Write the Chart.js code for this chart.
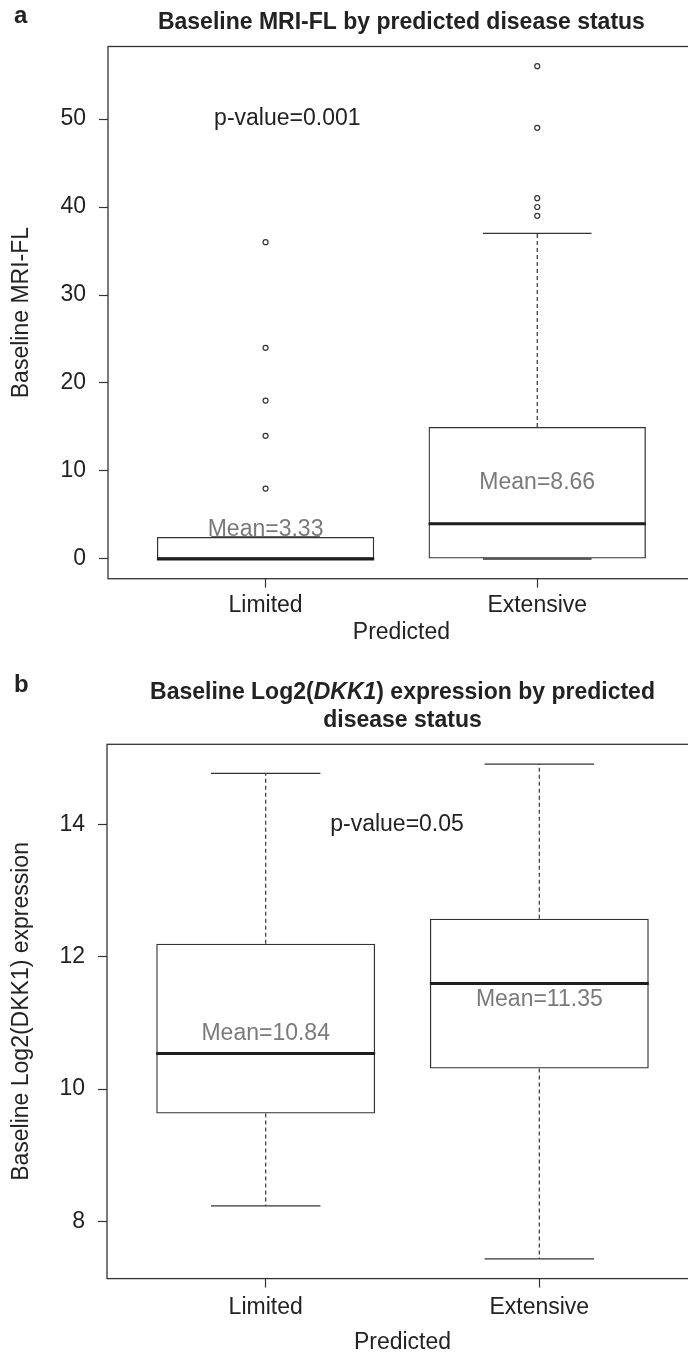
<!DOCTYPE html>
<html><head><meta charset="utf-8">
<script src="https://cdn.jsdelivr.net/npm/chart.js@4.4.1/dist/chart.umd.min.js"></script>
<style>
html,body{margin:0;padding:0;background:#fff;overflow:hidden;width:688px;height:1357px;position:relative;}
canvas{position:absolute;left:0;display:block;}
#ca{top:0}
#cb{top:660px}
</style></head><body>
<canvas id="ca" width="700" height="660"></canvas>
<canvas id="cb" width="700" height="697"></canvas>
<script>
// ---------- shared ----------
const categories = ['Limited', 'Extensive'];
const categoryX = [1, 2];
const xAxisLabel = 'Predicted';

// ---------- panel a ----------
const aPanelLetter = 'a';
const aTitleLines = [[{text: 'Baseline MRI-FL by predicted disease status'}]];
const aYLabel = 'Baseline MRI-FL';
const aYTicks = [0, 10, 20, 30, 40, 50];
const aQ1 = [0, 0];
const aMedian = [0, 4];
const aQ3 = [2.5, 15];
const aWhiskerLow = [0, 0];
const aWhiskerHigh = [2.5, 37];
const aOutliers = [[8, 14, 18, 24, 36], [39, 40, 41, 49, 56]];
const aMeans = [3.33, 8.66];
const aPText = 'p-value=0.001';
const aPX = 1.08;
const aPY = 50;

// ---------- panel b ----------
const bPanelLetter = 'b';
const bTitleLines = [
  [{text: 'Baseline Log2('}, {text: 'DKK1', italic: true}, {text: ') expression by predicted'}],
  [{text: 'disease status'}]
];
const bYLabel = 'Baseline Log2(DKK1) expression';
const bYTicks = [8, 10, 12, 14];
const bQ1 = [9.63, 10.31];
const bMedian = [10.54, 11.6];
const bQ3 = [12.2, 12.58];
const bWhiskerLow = [8.23, 7.43];
const bWhiskerHigh = [14.78, 14.92];
const bOutliers = [[], []];
const bMeans = [10.84, 11.35];
const bPText = 'p-value=0.05';
const bPX = 1.48;
const bPY = 14;

// ---------- styling ----------
const FAMILY = '"Liberation Sans", Arial, Helvetica, sans-serif';
const FS = 23;
const TEXT = '#222';
const LINE = '#333';
const BOX_HALF = 0.4;
const CAP_HALF = 0.2;

function padRange(lo, hi) { const d = (hi - lo) * 0.04; return [lo - d, hi + d]; }

function segs(builder) {
  const pts = [];
  categoryX.forEach((x, i) => { builder(x, i).forEach(p => pts.push(p)); pts.push({x: x, y: null}); });
  return pts;
}

function makeChart(id, cfg) {
  const allVals = [].concat(cfg.wlo, cfg.whi, ...cfg.out);
  const [yMin, yMax] = padRange(Math.min(...allVals), Math.max(...allVals));
  const [xMin, xMax] = padRange(0.5, categoryX.length + 0.5);

  const datasets = [
    {
      type: 'bar',
      data: categoryX.map((x, i) => ({x: x, y: [cfg.q1[i], cfg.q3[i]]})),
      backgroundColor: 'rgba(0,0,0,0)', borderColor: LINE, borderWidth: 1.3,
      borderSkipped: false, categoryPercentage: 1, barPercentage: 2 * BOX_HALF, order: 5
    },
    {
      type: 'line', data: segs((x, i) => [{x: x, y: cfg.q3[i]}, {x: x, y: cfg.whi[i]}, {x: x, y: null}, {x: x, y: cfg.q1[i]}, {x: x, y: cfg.wlo[i]}]),
      borderColor: LINE, borderWidth: 1.2, borderDash: [4, 3], pointRadius: 0, spanGaps: false, order: 4
    },
    {
      type: 'line', data: segs((x, i) => [{x: x - CAP_HALF, y: cfg.whi[i]}, {x: x + CAP_HALF, y: cfg.whi[i]}, {x: x, y: null}, {x: x - CAP_HALF, y: cfg.wlo[i]}, {x: x + CAP_HALF, y: cfg.wlo[i]}]),
      borderColor: LINE, borderWidth: 1.3, pointRadius: 0, spanGaps: false, order: 3
    },
    {
      type: 'line', data: segs((x, i) => [{x: x - BOX_HALF, y: cfg.med[i]}, {x: x + BOX_HALF, y: cfg.med[i]}]),
      borderColor: '#1e1e1e', borderWidth: 3, pointRadius: 0, spanGaps: false, order: 2
    },
    {
      type: 'scatter', data: [].concat(...categoryX.map((x, i) => cfg.out[i].map(v => ({x: x, y: v})))),
      pointStyle: 'circle', pointRadius: 2.5, borderWidth: 1.2, borderColor: LINE,
      backgroundColor: 'rgba(0,0,0,0)', showLine: false, order: 1
    }
  ];

  const font = {family: FAMILY, size: FS};
  const decor = {
    id: 'decor',
    afterDraw(chart) {
      const ctx = chart.ctx, a = chart.chartArea;
      const xs = chart.scales.x, ys = chart.scales.y;
      ctx.save();
      ctx.strokeStyle = LINE; ctx.lineWidth = 1.3;
      ctx.strokeRect(a.left, a.top, a.right - a.left, a.bottom - a.top);
      ctx.textAlign = 'center'; ctx.textBaseline = 'middle';
      ctx.font = FS + 'px ' + FAMILY;
      ctx.fillStyle = '#7a7a7a';
      categoryX.forEach((x, i) => ctx.fillText('Mean=' + cfg.means[i].toFixed(2), xs.getPixelForValue(x), ys.getPixelForValue(cfg.means[i])));
      ctx.fillStyle = TEXT;
      ctx.fillText(cfg.pText, xs.getPixelForValue(cfg.pX), ys.getPixelForValue(cfg.pY));
      ctx.font = 'bold 24px ' + FAMILY;
      ctx.textAlign = 'left';
      ctx.fillText(cfg.letter, cfg.letterX, cfg.letterY);
      const cx = (a.left + a.right) / 2;
      cfg.title.forEach((parts, li) => {
        const fonts = parts.map(p => (p.italic ? 'italic ' : '') + 'bold ' + cfg.titleSize + 'px ' + FAMILY);
        let total = 0;
        const widths = parts.map((p, k) => { ctx.font = fonts[k]; const w = ctx.measureText(p.text).width; total += w; return w; });
        let x = cx - total / 2;
        const y = cfg.titleY + li * cfg.titleLH;
        parts.forEach((p, k) => { ctx.font = fonts[k]; ctx.fillText(p.text, x, y); x += widths[k]; });
      });
      ctx.restore();
    }
  };

  const tickGrid = {display: true, offset: false, drawOnChartArea: false, drawTicks: true, tickLength: 9, tickColor: LINE, tickWidth: 1.2};

  return new Chart(document.getElementById(id), {
    type: 'bar',
    data: {datasets: datasets},
    options: {
      responsive: false, animation: false, events: [],
      layout: {padding: {top: cfg.top, right: 2, left: 0, bottom: 0}},
      plugins: {legend: {display: false}, tooltip: {enabled: false}, title: {display: false}},
      scales: {
        x: {
          type: 'linear', min: xMin, max: xMax, offset: false,
          afterBuildTicks: s => { s.ticks = categoryX.map(v => ({value: v})); },
          ticks: {callback: v => categories[categoryX.indexOf(v)], font: font, color: TEXT, padding: cfg.xTickPad, maxRotation: 0, autoSkip: false},
          grid: tickGrid, border: {display: false},
          title: {display: true, text: xAxisLabel, font: font, color: TEXT, padding: {top: 0, bottom: cfg.xTitlePad}},
          afterFit: s => { s.height = cfg.xHeight; }
        },
        y: {
          type: 'linear', min: yMin, max: yMax,
          afterBuildTicks: s => { s.ticks = cfg.yTicks.map(v => ({value: v})); },
          ticks: {font: font, color: TEXT, padding: 13},
          grid: tickGrid, border: {display: false},
          title: {display: true, text: cfg.yLabel, font: font, color: TEXT, padding: {top: 8.2, bottom: 0}},
          afterFit: s => { s.width = cfg.left; }
        }
      }
    },
    plugins: [decor]
  });
}

makeChart('ca', {
  q1: aQ1, med: aMedian, q3: aQ3, wlo: aWhiskerLow, whi: aWhiskerHigh, out: aOutliers,
  means: aMeans, pText: aPText, pX: aPX, pY: aPY, yTicks: aYTicks, yLabel: aYLabel,
  letter: aPanelLetter, letterX: 14, letterY: 16, title: aTitleLines, titleY: 22.5, titleLH: 28, titleSize: 23,
  top: 46.5, left: 108, xHeight: 660 - 578.7, xTickPad: 4, xTitlePad: 13.2
});
makeChart('cb', {
  q1: bQ1, med: bMedian, q3: bQ3, wlo: bWhiskerLow, whi: bWhiskerHigh, out: bOutliers,
  means: bMeans, pText: bPText, pX: bPX, pY: bPY, yTicks: bYTicks, yLabel: bYLabel,
  letter: bPanelLetter, letterX: 14, letterY: 25, title: bTitleLines, titleY: 32.5, titleLH: 28, titleSize: 23,
  top: 84.3, left: 107, xHeight: 697 - 618.6, xTickPad: 6, xTitlePad: 0.2
});
</script>
</body></html>
